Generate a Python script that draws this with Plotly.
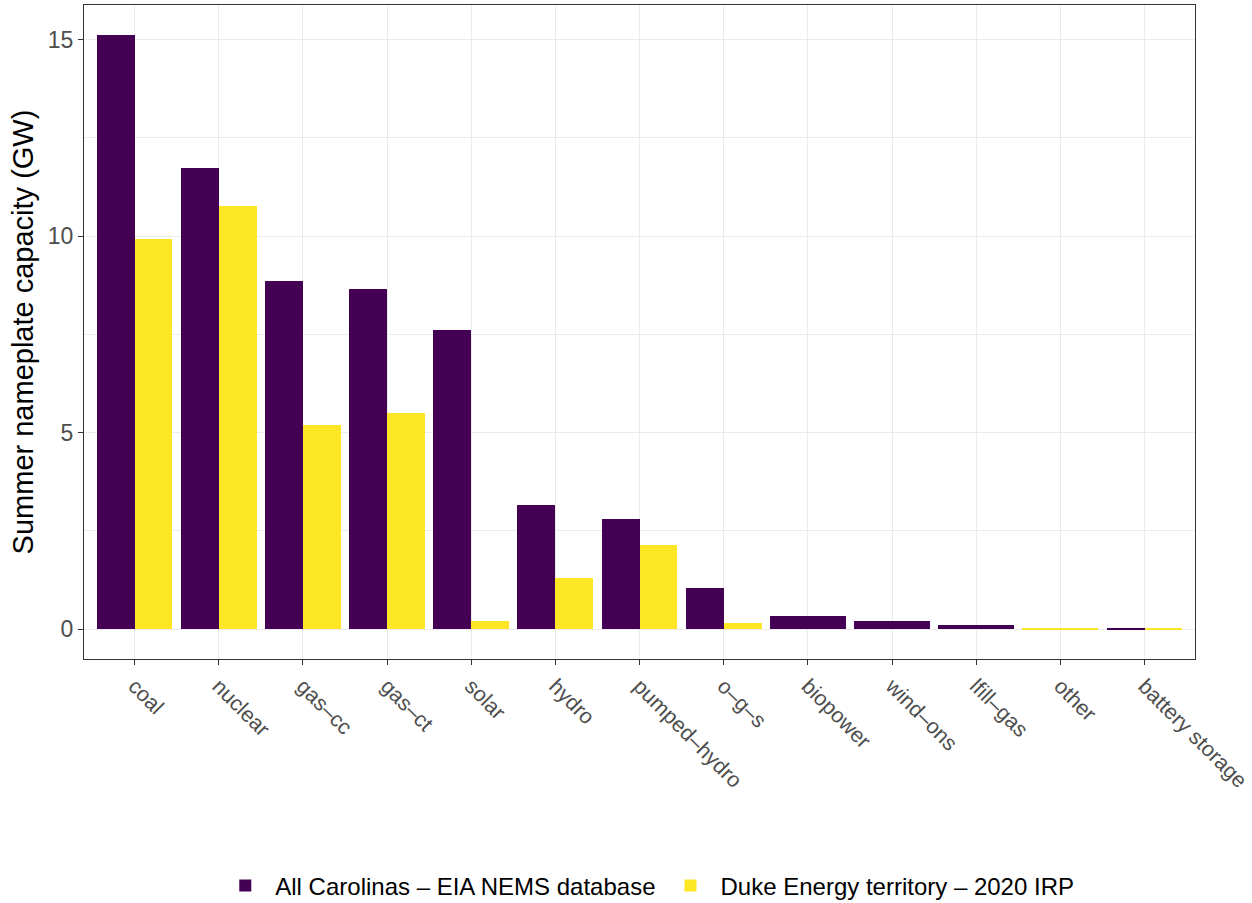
import plotly.graph_objects as go

categories = ["coal", "nuclear", "gas\u2013cc", "gas\u2013ct", "solar", "hydro", "pumped\u2013hydro",
              "o\u2013g\u2013s", "biopower", "wind\u2013ons", "lfill\u2013gas", "other", "battery storage"]
eia_nems = [15.12, 11.73, 8.85, 8.65, 7.60, 3.16, 2.81, 1.05, 0.33, 0.20, 0.10, None, 0.02]
duke_irp = [9.92, 10.76, 5.20, 5.50, 0.20, 1.30, 2.14, 0.15, None, None, None, 0.02, 0.02]

series_names = ["All Carolinas \u2013 EIA NEMS database", "Duke Energy territory \u2013 2020 IRP"]
series_colors = ["#440154", "#FDE725"]

FONT = "Liberation Sans, Arial, Helvetica, sans-serif"
total_w = 0.9

fig = go.Figure()
all_series = [eia_nems, duke_irp]
for si, (vals, name, color) in enumerate(zip(all_series, series_names, series_colors)):
    xs, ws, ys = [], [], []
    for ci, v in enumerate(vals):
        if v is None:
            continue
        present = [s[ci] is not None for s in all_series]
        n = sum(present)
        idx = sum(present[:si])
        w = total_w / n
        xs.append(ci + 1 - total_w / 2 + w * (idx + 0.5))
        ws.append(w)
        ys.append(v)
    fig.add_trace(go.Bar(x=xs, y=ys, width=ws, name=name, marker=dict(color=color, line=dict(width=0))))

fig.update_layout(
    barmode="overlay",
    width=1252, height=903, autosize=False,
    margin=dict(l=84, r=57, t=5, b=244),
    plot_bgcolor="white", paper_bgcolor="white",
    font=dict(family=FONT, color="#4D4D4D"),
    legend=dict(orientation="h", x=0.517, xanchor="center", xref="container",
                y=0.019, yanchor="middle", yref="container",
                font=dict(size=24, color="black", family=FONT), itemwidth=50),
    bargap=0,
)
fig.update_xaxes(
    range=[0.4, len(categories) + 0.6], automargin=False,
    tickmode="array", tickvals=list(range(1, len(categories) + 1)), ticktext=categories,
    tickangle=45, tickfont=dict(size=21.5, color="#4D4D4D"), ticklabeloverflow="allow",
    showgrid=True, gridcolor="#EBEBEB", gridwidth=1.1, zeroline=False,
    showline=True, mirror=True, linecolor="#333333", linewidth=1.2,
    ticks="outside", ticklen=5, tickcolor="#333333", tickwidth=1.1,
)
fig.update_yaxes(
    range=[-0.756, 15.876], automargin=False,
    tickmode="array", tickvals=[0, 5, 10, 15],
    tickfont=dict(size=23, color="#4D4D4D"),
    title=dict(text="Summer nameplate capacity (GW)", font=dict(size=29, color="black"), standoff=5),
    showgrid=True, gridcolor="#EBEBEB", gridwidth=1.1, zeroline=False,
    minor=dict(tickvals=[2.5, 7.5, 12.5], showgrid=True, gridcolor="#EBEBEB", gridwidth=0.55, ticks=""),
    showline=True, mirror=True, linecolor="#333333", linewidth=1.2,
    ticks="outside", ticklen=5, tickcolor="#333333", tickwidth=1.1,
)

fig.write_html(
    "out.html",
    config={"displayModeBar": False, "responsive": False},
    default_width="1252px", default_height="903px",
    post_script="document.body.style.margin='0px';document.body.style.overflow='hidden';",
)
